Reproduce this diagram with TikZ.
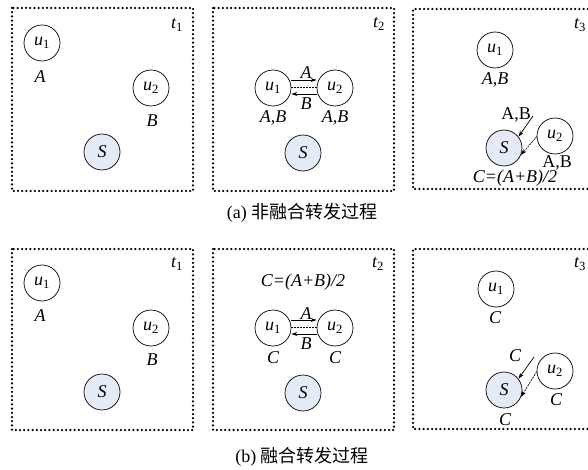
\documentclass[tikz,border=0pt]{standalone}
\usepackage{fontspec}
\setmainfont{Liberation Serif}
\newfontfamily\cjk{Noto Sans CJK SC}
\usetikzlibrary{arrows.meta}
\definecolor{sinkfill}{RGB}{228,234,246}
\newcommand{\uu}[1]{{\itshape u}\textsubscript{\upshape #1}}

\begin{document}
\begin{tikzpicture}[x=1pt,y=-1pt]
      \tikzstyle{every node}+=[inner sep=0pt, font=\fontsize{18}{18}\selectfont]
      \tikzstyle{user}=[draw, circle, minimum size=36pt, line width=0.7pt]
      \tikzstyle{sink}=[user, fill=sinkfill]
      \tikzstyle{tag}=[font=\fontsize{18}{18}\selectfont\itshape]
      \tikzstyle{frame}=[line width=2.5pt, dash pattern=on 0pt off 4.2pt, line cap=round]
      \tikzstyle{send}=[line width=0.7pt, -{Stealth[length=6pt,width=4pt]}]
      \useasboundingbox (0,0) rectangle (588,470);
      % (a) row
      \draw [frame] (12,8) rectangle (193,191);
      \draw [frame] (213,8) rectangle (394,191);
      \draw [frame] (592,9) -- (413,9) -- (413,189) -- (592,189);
      \node [user] (a1u1) at (42,43) {\uu{1}};
      \node [user] (a1u2) at (151,88) {\uu{2}};
      \node [sink] (a1s) at (102,152) {\itshape S};
      \node [tag] (a1la) at (40,77) {A};
      \node [tag] (a1lb) at (152,121) {B};
      \node [tag] (a1t) at (177,25) {t\textsubscript{\upshape 1}};
      \node [user] (a2u1) at (273,88) {\uu{1}};
      \node [user] (a2u2) at (335,88) {\uu{2}};
      \node [sink] (a2s) at (303,153) {\itshape S};
      \node [tag] (a2la) at (306,73) {A};
      \node [tag] (a2lb) at (306,104) {B};
      \node [tag] (a2l1) at (273,118) {A,B};
      \node [tag] (a2l2) at (335,118) {A,B};
      \node [tag] (a2t) at (379,24) {t\textsubscript{\upshape 2}};
      \draw [send] ([yshift=8pt]a2u1.east) -- ([yshift=8pt]a2u2.west);
      \draw [line width=0.7pt, dashed, dash pattern=on 2pt off 1pt] ([yshift=1pt]a2u1.east) -- ([yshift=1pt]a2u2.west);
      \draw [send] ([yshift=-6pt]a2u2.west) -- ([yshift=-6pt]a2u1.east);
      \node [user] (a3u1) at (495,50) {\uu{1}};
      \node [user] (a3u2) at (555,136) {\uu{2}};
      \node [sink] (a3s) at (504,148) {\itshape S};
      \node [tag] (a3l1) at (495,80) {A,B};
      \node (a3lf) at (516,115) {A,B};
      \node (a3l2) at (557,163) {A,B};
      \node [tag] (a3lc) at (515,178) {C=(A+B)/2};
      \node [tag] (a3t) at (580,25) {t\textsubscript{\upshape 3}};
      \coordinate (a3in) at (533,116);
      \draw [send] (a3in) -- (a3s.38);
      \draw [send, dashed, dash pattern=on 2pt off 1pt] (a3u2.182) -- (a3s.-22);
      \node (capa) at (302,213) {\fontsize{18}{18}\selectfont (a) {\cjk 非融合转发过程}};
      % (b) row
      \draw [frame] (12,249) rectangle (193,430);
      \draw [frame] (213,249) rectangle (394,430);
      \draw [frame] (592,249) -- (413,249) -- (413,429) -- (592,429);
      \node [user] (b1u1) at (42,283) {\uu{1}};
      \node [user] (b1u2) at (151,328) {\uu{2}};
      \node [sink] (b1s) at (102,392) {\itshape S};
      \node [tag] (b1la) at (40,316) {A};
      \node [tag] (b1lb) at (152,360) {B};
      \node [tag] (b1t) at (177,264) {t\textsubscript{\upshape 1}};
      \node [tag] (b2lc) at (303,282) {C=(A+B)/2};
      \node [user] (b2u1) at (273,328) {\uu{1}};
      \node [user] (b2u2) at (335,328) {\uu{2}};
      \node [sink] (b2s) at (303,393) {\itshape S};
      \node [tag] (b2la) at (306,314) {A};
      \node [tag] (b2lb) at (306,344) {B};
      \node [tag] (b2l1) at (273,358) {C};
      \node [tag] (b2l2) at (335,358) {C};
      \node [tag] (b2t) at (378,264) {t\textsubscript{\upshape 2}};
      \draw [send] ([yshift=8pt]b2u1.east) -- ([yshift=8pt]b2u2.west);
      \draw [line width=0.7pt, dashed, dash pattern=on 2pt off 1pt] ([yshift=1pt]b2u1.east) -- ([yshift=1pt]b2u2.west);
      \draw [send] ([yshift=-6pt]b2u2.west) -- ([yshift=-6pt]b2u1.east);
      \node [user] (b3u1) at (496,289) {\uu{1}};
      \node [user] (b3u2) at (555,371) {\uu{2}};
      \node [sink] (b3s) at (504,390) {\itshape S};
      \node [tag] (b3l1) at (495,318) {C};
      \node [tag] (b3lf) at (515,356) {C};
      \node [tag] (b3l2) at (556,400) {C};
      \node [tag] (b3lc) at (505,420) {C};
      \node [tag] (b3t) at (580,264) {t\textsubscript{\upshape 3}};
      \coordinate (b3in) at (534,357);
      \draw [send] (b3in) -- (b3s.38);
      \draw [send, dashed, dash pattern=on 2pt off 1pt] (b3u2.182) -- (b3s.-22);
      \node (capb) at (302,457) {\fontsize{18}{18}\selectfont (b) {\cjk 融合转发过程}};
\end{tikzpicture}
\end{document}
